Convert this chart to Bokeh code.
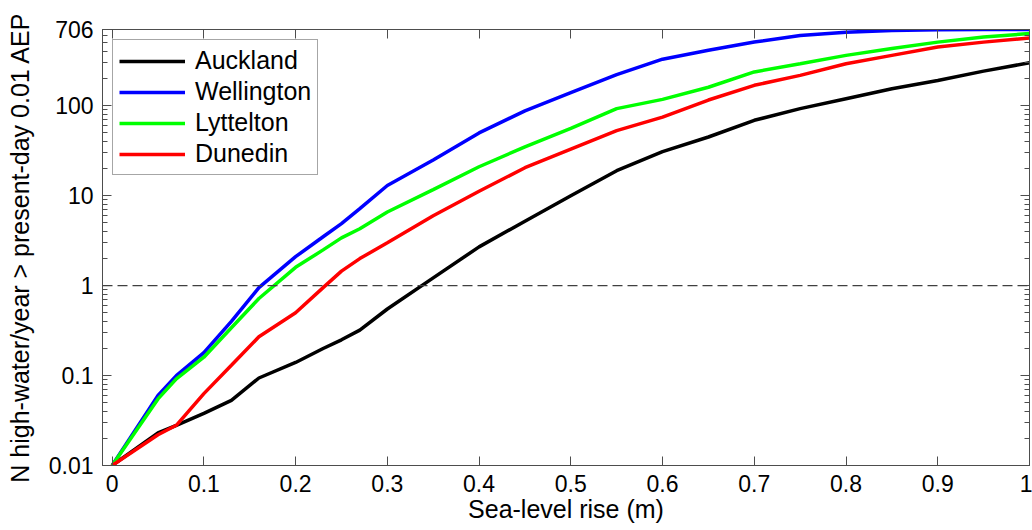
from bokeh.plotting import figure
from bokeh.models import (FixedTicker, LinearAxis, LogAxis, Span,
                          CustomJSTickFormatter, Range1d)
from bokeh.embed import file_html
from bokeh.resources import INLINE

# ---------------- data ----------------
slr = [0, 0.05, 0.07, 0.10, 0.13, 0.16, 0.20, 0.23, 0.25, 0.27, 0.30, 0.35,
       0.40, 0.45, 0.50, 0.55, 0.60, 0.65, 0.70, 0.75, 0.80, 0.85, 0.90,
       0.95, 1.00]
auckland = [0.01, 0.023, 0.028, 0.038, 0.053, 0.094, 0.14, 0.20, 0.25, 0.32,
            0.55, 1.22, 2.7, 5.2, 10, 19, 31, 45, 69, 93, 120, 155, 191, 243, 301]
wellington = [0.01, 0.06, 0.10, 0.18, 0.40, 0.95, 2.1, 3.5, 4.9, 7.2, 13, 25,
              50, 88, 140, 222, 330, 415, 512, 605, 658, 690, 702, 705, 706]
lyttelton = [0.01, 0.055, 0.092, 0.16, 0.34, 0.72, 1.6, 2.5, 3.4, 4.3, 6.6,
             11.7, 21, 35, 56, 93, 118, 161, 238, 294, 364, 435, 511, 581, 636]
dunedin = [0.01, 0.022, 0.028, 0.063, 0.13, 0.27, 0.50, 0.95, 1.45, 2.0, 3.0,
           6.0, 11.2, 20.5, 33, 53, 75, 116, 169, 218, 294, 364, 450, 511, 567]

series_names = ["Auckland", "Wellington", "Lyttelton", "Dunedin"]
series_values = [auckland, wellington, lyttelton, dunedin]
series_colors = ["#000000", "#0000FF", "#00FF00", "#FF0000"]

x_ticks = [0, 0.1, 0.2, 0.3, 0.4, 0.5, 0.6, 0.7, 0.8, 0.9, 1.0]
x_tick_labels = ["0", "0.1", "0.2", "0.3", "0.4", "0.5", "0.6", "0.7", "0.8", "0.9", "1"]
y_ticks = [0.01, 0.1, 1, 10, 100, 706]
y_tick_labels = ["0.01", "0.1", "1", "10", "100", "706"]
y_minor = [m * 10.0 ** e for e in range(-2, 3) for m in range(2, 10) if m * 10.0 ** e < 706]
threshold = 1

x_title = "Sea-level rise (m)"
y_title = "N high-water/year > present-day 0.01 AEP"

FONT = "Liberation Sans"
AXC = "#4d4d4d"

p = figure(width=1032, height=530, output_backend="svg", toolbar_location=None,
           x_range=Range1d(-0.0105, 1.0), y_range=Range1d(0.01, 706),
           y_axis_type="log",
           min_border_left=102, min_border_right=3, min_border_top=29,
           min_border_bottom=65)
p.grid.visible = False
p.outline_line_color = AXC
p.background_fill_color = "white"
p.border_fill_color = "white"

JS = "const i = tvals.indexOf(tick); return i < 0 ? '' : tlabs[i];"
xfmt = CustomJSTickFormatter(args=dict(tvals=x_ticks, tlabs=x_tick_labels), code=JS)
yfmt = CustomJSTickFormatter(args=dict(tvals=y_ticks, tlabs=y_tick_labels), code=JS)
blank = CustomJSTickFormatter(code="return '';")


def style_axis(ax, ticker, fmt, standoff):
    ax.ticker = ticker
    ax.formatter = fmt
    ax.axis_line_color = AXC
    ax.major_tick_line_color = AXC
    ax.minor_tick_line_color = AXC
    ax.major_tick_in = 9
    ax.major_tick_out = 0
    ax.minor_tick_in = 5
    ax.minor_tick_out = 0
    ax.major_label_text_font = FONT
    ax.major_label_text_color = "black"
    ax.major_label_standoff = standoff
    ax.major_label_text_font_size = "23px"
    ax.axis_label_text_font = FONT
    ax.axis_label_text_font_style = "normal"
    ax.axis_label_text_font_size = "25px"
    ax.axis_label_text_color = "black"


xa = p.xaxis[0]
style_axis(xa, FixedTicker(ticks=x_ticks, minor_ticks=[]), xfmt, 9)
xa.axis_label = x_title
xa.axis_label_standoff = 0

ya = p.yaxis[0]
style_axis(ya, FixedTicker(ticks=y_ticks, minor_ticks=y_minor), yfmt, 9)
ya.axis_label = y_title
ya.axis_label_standoff = 12

# mirrored tick marks on the top and right edges of the box
top = LinearAxis()
style_axis(top, FixedTicker(ticks=x_ticks, minor_ticks=[]), blank, 0)
top.major_label_text_font_size = "10px"
p.add_layout(top, "above")
right = LogAxis()
style_axis(right, FixedTicker(ticks=y_ticks, minor_ticks=y_minor), blank, 0)
right.major_label_text_font_size = "10px"
p.add_layout(right, "right")

p.add_layout(Span(location=threshold, dimension="width", line_color="#404040",
                  line_width=1.2, line_dash="10 5"))

for name, vals, col in zip(series_names, series_values, series_colors):
    p.line(slr, vals, line_color=col, line_width=3.5, legend_label=name)

lg = p.legend[0]
lg.location = "top_left"
lg.margin = 10
lg.padding = 6
lg.spacing = 2
lg.glyph_width = 66
lg.glyph_height = 24
lg.label_height = 24
lg.label_standoff = 10
lg.label_text_font = FONT
lg.label_text_font_size = "25px"
lg.label_text_color = "black"
lg.border_line_color = AXC
lg.border_line_width = 1
lg.background_fill_color = "white"
lg.background_fill_alpha = 1

open("out.html", "w").write(file_html(p, INLINE))
